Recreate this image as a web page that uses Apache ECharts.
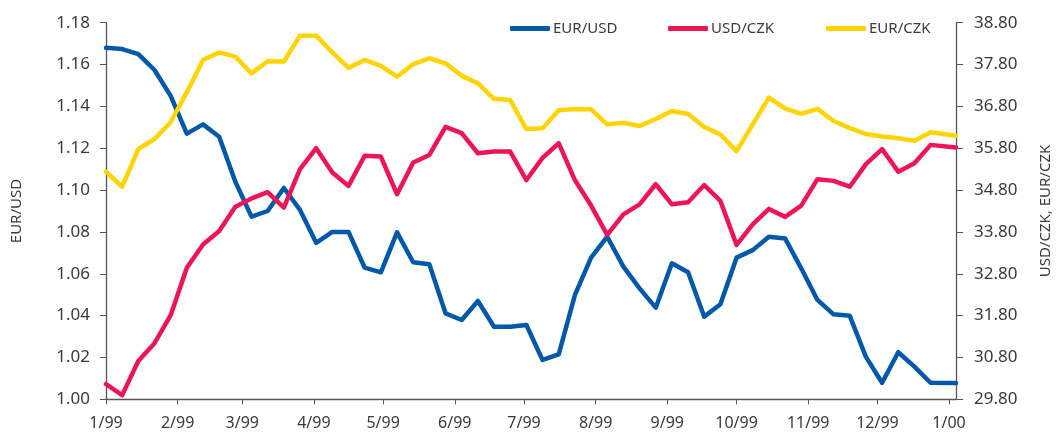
<!DOCTYPE html>
<html>
<head>
<meta charset="utf-8">
<script src="https://cdn.jsdelivr.net/npm/echarts@6/dist/echarts.min.js"></script>
<style>
html,body{margin:0;padding:0;background:#fff;}
#chart{width:1061px;height:435px;}
</style>
</head>
<body>
<div id="chart"></div>
<script>
// Weekly observation dates
const dates = [
  '1999-01-01','1999-01-08','1999-01-15','1999-01-22','1999-01-29',
  '1999-02-05','1999-02-12','1999-02-19','1999-02-26',
  '1999-03-05','1999-03-12','1999-03-19','1999-03-26',
  '1999-04-02','1999-04-09','1999-04-16','1999-04-23','1999-04-30',
  '1999-05-07','1999-05-14','1999-05-21','1999-05-28',
  '1999-06-04','1999-06-11','1999-06-18','1999-06-25',
  '1999-07-02','1999-07-09','1999-07-16','1999-07-23','1999-07-30',
  '1999-08-06','1999-08-13','1999-08-20','1999-08-27',
  '1999-09-03','1999-09-10','1999-09-17','1999-09-24',
  '1999-10-01','1999-10-08','1999-10-15','1999-10-22','1999-10-29',
  '1999-11-05','1999-11-12','1999-11-19','1999-11-26',
  '1999-12-03','1999-12-10','1999-12-17','1999-12-24',
  '2000-01-04'
];
const eurUsd = [1.168,1.1674,1.165,1.1574,1.145,1.127,1.1314,1.1255,1.104,1.0873,1.090,1.101,1.0905,1.0748,1.080,1.080,1.0629,1.0607,1.0798,1.0655,1.0645,1.0411,1.0379,1.0470,1.0347,1.0347,1.0355,1.0188,1.0215,1.0498,1.0677,1.0777,1.0634,1.0530,1.0438,1.065,1.0607,1.0395,1.0454,1.0677,1.0713,1.0777,1.0769,1.0626,1.0475,1.0406,1.0399,1.0203,1.0079,1.0225,1.0156,1.0079,1.0078];
const usdCzk = [30.165,29.90,30.715,31.14,31.81,32.945,33.50,33.82,34.40,34.60,34.75,34.38,35.30,35.80,35.22,34.90,35.62,35.60,34.70,35.46,35.64,36.31,36.16,35.68,35.72,35.72,35.04,35.57,35.92,35.04,34.43,33.73,34.22,34.46,34.94,34.46,34.51,34.92,34.54,33.49,33.98,34.35,34.16,34.43,35.06,35.02,34.88,35.42,35.78,35.24,35.44,35.88,35.82];
const eurCzk = [35.24,34.88,35.78,36.02,36.42,37.14,37.91,38.09,37.99,37.59,37.88,37.87,38.49,38.49,38.09,37.72,37.91,37.77,37.51,37.81,37.95,37.83,37.53,37.35,36.98,36.95,36.26,36.28,36.71,36.74,36.73,36.37,36.41,36.33,36.50,36.69,36.62,36.31,36.13,35.73,36.37,37.01,36.75,36.62,36.74,36.45,36.28,36.14,36.08,36.04,35.98,36.18,36.10];
// x-axis ticks (month starts) and their labels
const monthTicks = ['1999-01-01','1999-02-01','1999-03-01','1999-04-01','1999-05-01','1999-06-01','1999-07-01','1999-08-01','1999-09-01','1999-10-01','1999-11-01','1999-12-01','2000-01-01'];
const monthLabels = ['1/99','2/99','3/99','4/99','5/99','6/99','7/99','8/99','9/99','10/99','11/99','12/99','1/00'];
const seriesNames = ['EUR/USD','USD/CZK','EUR/CZK'];
const colors = ['#0058A8','#EC1558','#FFD400'];

const ts = s => { const p = s.split('-').map(Number); return Date.UTC(p[0], p[1]-1, p[2]); };
const tickTs = monthTicks.map(ts);
const pairs = arr => dates.map((d,i) => [ts(d), arr[i]]);

const FONT = 'Noto Sans';
const TXT = '#3a3a3a';
const AX = '#555555';

const chart = echarts.init(document.getElementById('chart'), null, {renderer:'canvas'});
const legendBase = (name, left) => ({
  data:[name], left:left, top:16, itemWidth:40, itemHeight:5, icon:'roundRect',
  textStyle:{fontFamily:FONT,fontSize:15,color:TXT,padding:[0,0,0,-2]}, selectedMode:false
});
chart.setOption({
  animation:false,
  textStyle:{fontFamily:FONT},
  color:colors,
  legend:[legendBase(seriesNames[0],505), legendBase(seriesNames[1],663), legendBase(seriesNames[2],821)],
  grid:{left:106,right:97,top:22.7,bottom:35.7,containLabel:false},
  xAxis:{
    type:'value', min:ts('1999-01-01'), max:ts('2000-01-04'),
    axisLine:{show:true,lineStyle:{color:AX,width:1.3}},
    axisTick:{show:true,length:5,lineStyle:{color:AX},customValues:tickTs},
    axisLabel:{fontFamily:FONT,fontSize:16,color:TXT,margin:16,customValues:tickTs,hideOverlap:false,
      showMinLabel:true,showMaxLabel:true,
      formatter:function(v){ const i = tickTs.indexOf(v); return i>=0 ? monthLabels[i] : ''; }},
    splitLine:{show:false}
  },
  yAxis:[
    {type:'value',min:1.00,max:1.18,interval:0.02,position:'left',
     name:'EUR/USD',nameLocation:'middle',nameGap:82,nameRotate:90,
     nameTextStyle:{fontFamily:FONT,fontSize:15,color:TXT},
     axisLine:{show:true,lineStyle:{color:AX,width:1.3}},
     axisTick:{show:true,length:6,lineStyle:{color:AX}},
     axisLabel:{fontFamily:FONT,fontSize:17,color:TXT,margin:16,formatter:v=>v.toFixed(2)},
     splitLine:{show:false}},
    {type:'value',min:29.8,max:38.8,interval:1,position:'right',
     name:'USD/CZK, EUR/CZK',nameLocation:'middle',nameGap:82,nameRotate:90,
     nameTextStyle:{fontFamily:FONT,fontSize:15,color:TXT},
     axisLine:{show:true,lineStyle:{color:AX,width:1.3}},
     axisTick:{show:true,length:7,lineStyle:{color:AX}},
     axisLabel:{fontFamily:FONT,fontSize:17,color:TXT,margin:18,formatter:v=>v.toFixed(2)},
     splitLine:{show:false}}
  ],
  series:[
    {name:seriesNames[0],type:'line',yAxisIndex:0,data:pairs(eurUsd),showSymbol:false,symbol:'none',
     lineStyle:{width:4.5,color:colors[0],join:'round',cap:'round'}},
    {name:seriesNames[1],type:'line',yAxisIndex:1,data:pairs(usdCzk),showSymbol:false,symbol:'none',
     lineStyle:{width:4.5,color:colors[1],join:'round',cap:'round'}},
    {name:seriesNames[2],type:'line',yAxisIndex:1,data:pairs(eurCzk),showSymbol:false,symbol:'none',
     lineStyle:{width:4.5,color:colors[2],join:'round',cap:'round'}}
  ]
});
</script>
</body>
</html>
